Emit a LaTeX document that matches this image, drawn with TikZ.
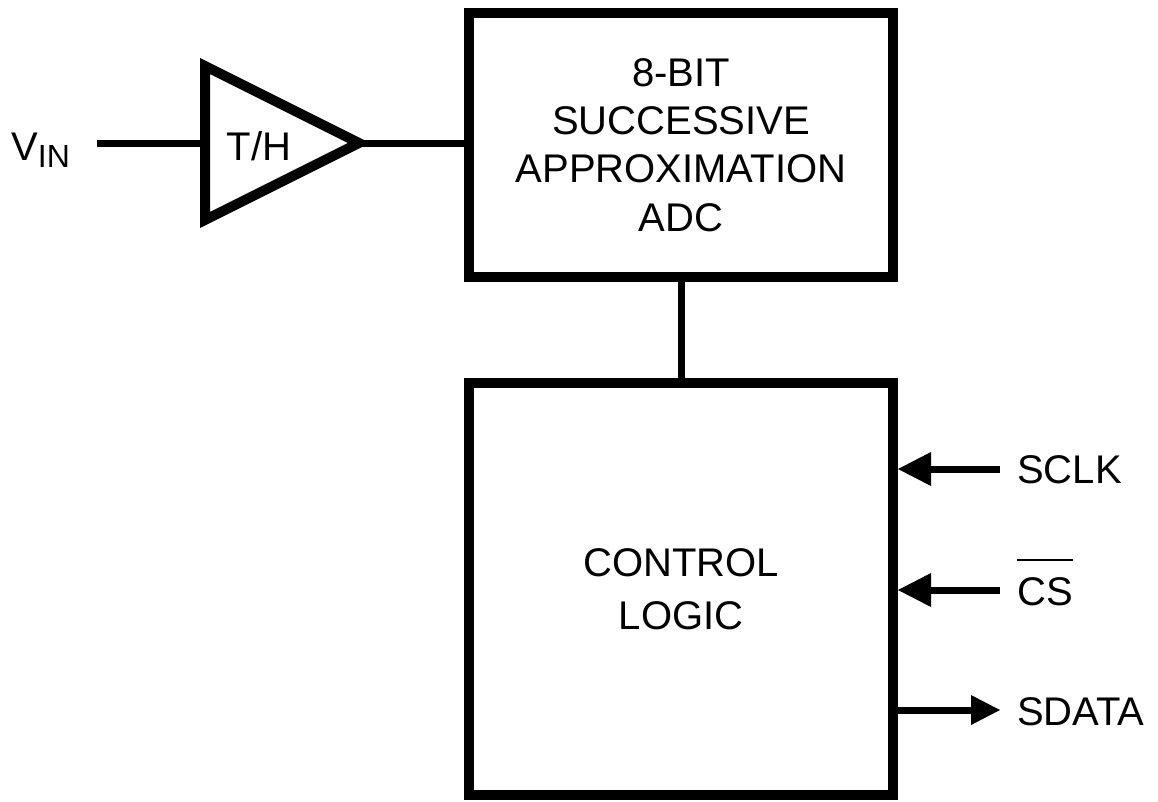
\documentclass[tikz,border=0pt]{standalone}
\usepackage{fontspec}
\setmainfont{Liberation Sans}
\usetikzlibrary{arrows.meta,calc}
\newcommand\myovl[1]{\leavevmode\vbox{\hrule height 2pt\kern 16.5pt\hbox{#1}}}
\begin{document}
\begin{tikzpicture}[x=1pt,y=-1pt,
  blockbox/.style={draw=black,line width=10pt,fill=white,inner sep=0pt,align=center,
    minimum width=424pt},
  wire/.style={line width=7pt},
  tri/.style={line width=10pt,line join=miter},
  lbl/.style={inner sep=0pt,font=\fontsize{40}{47}\selectfont},
  inarrow/.style={wire,-{Triangle[length=33pt,width=34pt,line width=0pt]}},
  outarrow/.style={wire,-{Triangle[length=29pt,width=30pt,line width=0pt]}}]
\useasboundingbox (0,0) rectangle (1158,801);
% blocks
\node[blockbox,minimum height=264pt,font=\fontsize{40}{48.3}\selectfont] (adc) at (681,145)
  {8-BIT\\SUCCESSIVE\\APPROXIMATION\\ADC};
\node[blockbox,minimum height=412pt,font=\fontsize{40}{52.7}\selectfont] (ctl) at (681,589)
  {CONTROL\\LOGIC};
% track and hold triangle
\coordinate (tht) at (205,66);
\coordinate (thb) at (205,220);
\coordinate (thtip) at (359,143);
\coordinate (thin) at (205,143);
\draw[tri] (tht) -- (thtip) -- (thb) -- cycle;
\node[lbl,anchor=base] (th) at (259,160) {T/H};
% input
\node[lbl,anchor=base west] (vin) at (11,160) {V\raisebox{-7pt}{\fontsize{32}{32}\selectfont IN}};
\coordinate (vinend) at (97,143);
\draw[wire] (vinend) -- (thin);
\draw[wire] (thtip) -- (thtip -| adc.west);
% adc to control
\draw[wire] (adc.south) -- (ctl.north);
% control signals
\coordinate (sclkend) at (1000,469);
\coordinate (csend) at (1000,590);
\coordinate (sdataend) at (1000,710);
\draw[inarrow] (sclkend) -- (ctl.east |- sclkend);
\draw[inarrow] (csend) -- (ctl.east |- csend);
\draw[outarrow] (ctl.east |- sdataend) -- (sdataend);
\node[lbl,anchor=base west] (sclk) at (1017,483) {SCLK};
\node[lbl,anchor=base west] (cs) at (1017,605) {\myovl{CS}};
\node[lbl,anchor=base west] (sdata) at (1017,725) {SDATA};
\end{tikzpicture}
\end{document}
